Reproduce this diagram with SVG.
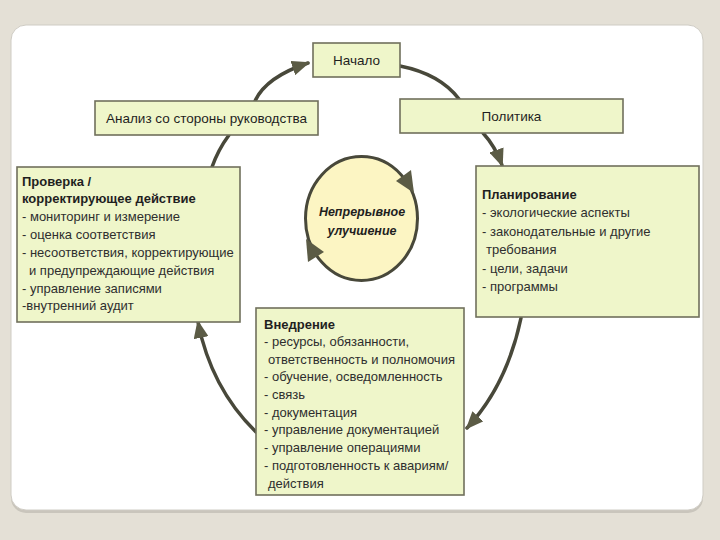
<svg xmlns="http://www.w3.org/2000/svg" width="720" height="540" viewBox="0 0 720 540">
<defs>
<style>
.box{fill:#eff6ca;stroke:#70705c;stroke-width:1.6}
.t{font-family:"Liberation Sans",Arial,sans-serif;font-size:13px;fill:#2e2e2e}
.b{font-weight:bold;fill:#1f1f1f}
.h{font-family:"Liberation Sans",Arial,sans-serif;font-size:13.5px;fill:#1f1f1f;text-anchor:middle}
.c{fill:none;stroke:#48483a;stroke-width:3.5;stroke-linecap:round}
.ah{fill:#5b5b45}
</style>
<marker id="arr" viewBox="0 0 18 15" refX="16" refY="7.5" markerWidth="18" markerHeight="15" orient="auto" markerUnits="userSpaceOnUse">
<path d="M0,0 L18,7.5 L0,15 z" class="ah"/>
</marker>
</defs>
<rect x="0" y="0" width="720" height="540" fill="#e4e0d6"/>
<rect x="11" y="26" width="692" height="487" rx="15" fill="#c9c5bc"/>
<rect x="11" y="25" width="692" height="485" rx="15" fill="#ffffff" stroke="#cfccc4" stroke-width="1"/>

<g id="connectors">
<path class="c" d="M255,101 Q266,77 308,63" marker-end="url(#arr)"/>
<path class="c" d="M400,66 Q440,74 459,99"/>
<path class="c" d="M483,133 Q495,146 502,165" marker-end="url(#arr)"/>
<path class="c" d="M521,318 Q507,385 467,428" marker-end="url(#arr)"/>
<path class="c" d="M256,432 Q211,388 198,322" marker-end="url(#arr)"/>
<path class="c" d="M212,167 Q218,150 229,135"/>
</g>

<g id="nachalo">
<rect class="box" x="313" y="43" width="87" height="34"/>
<text class="h" x="356.5" y="65">Начало</text>
</g>

<g id="analiz">
<rect class="box" x="95" y="101" width="223" height="34"/>
<text class="h" x="206.5" y="123">Анализ со стороны руководства</text>
</g>

<g id="politika">
<rect class="box" x="400" y="99" width="223" height="34"/>
<text class="h" x="511.5" y="121">Политика</text>
</g>

<g id="proverka">
<rect class="box" x="17" y="167" width="223" height="155"/>
<text class="t b" x="22" y="186">Проверка /</text>
<text class="t b" x="22" y="203">корректирующее действие</text>
<text class="t" x="22" y="221">- мониторинг и измерение</text>
<text class="t" x="22" y="239">- оценка соответствия</text>
<text class="t" x="22" y="257">- несоответствия, корректирующие</text>
<text class="t" x="29" y="275">и предупреждающие действия</text>
<text class="t" x="22" y="293">- управление записями</text>
<text class="t" x="22" y="310">-внутренний аудит</text>
</g>

<g id="planirovanie">
<rect class="box" x="476" y="166" width="223" height="151"/>
<text class="t b" x="482" y="199">Планирование</text>
<text class="t" x="482" y="217">- экологические аспекты</text>
<text class="t" x="482" y="236">- законодательные и другие</text>
<text class="t" x="486" y="254">требования</text>
<text class="t" x="482" y="273">- цели, задачи</text>
<text class="t" x="482" y="291">- программы</text>
</g>

<g id="vnedrenie">
<rect class="box" x="256" y="308" width="208" height="187"/>
<text class="t b" x="264" y="329">Внедрение</text>
<text class="t" x="264" y="346">- ресурсы, обязанности,</text>
<text class="t" x="268" y="364">ответственность и полномочия</text>
<text class="t" x="264" y="381">- обучение, осведомленность</text>
<text class="t" x="264" y="399">- связь</text>
<text class="t" x="264" y="417">- документация</text>
<text class="t" x="264" y="434">- управление документацией</text>
<text class="t" x="264" y="452">- управление операциями</text>
<text class="t" x="264" y="470">- подготовленность к авариям/</text>
<text class="t" x="268" y="488">действия</text>
</g>

<g id="uluchshenie">
<ellipse cx="361.5" cy="218.5" rx="56" ry="62" fill="#fcf5c3" stroke="#48483a" stroke-width="3"/>
<polygon class="ah" points="414,193 396,181 411,170"/>
<polygon class="ah" points="306,239 324,252 308,262"/>
<text class="h" x="362" y="216" style="font-size:12.5px;font-weight:bold;font-style:italic">Непрерывное</text>
<text class="h" x="362" y="235" style="font-size:12.5px;font-weight:bold;font-style:italic">улучшение</text>
</g>
</svg>
